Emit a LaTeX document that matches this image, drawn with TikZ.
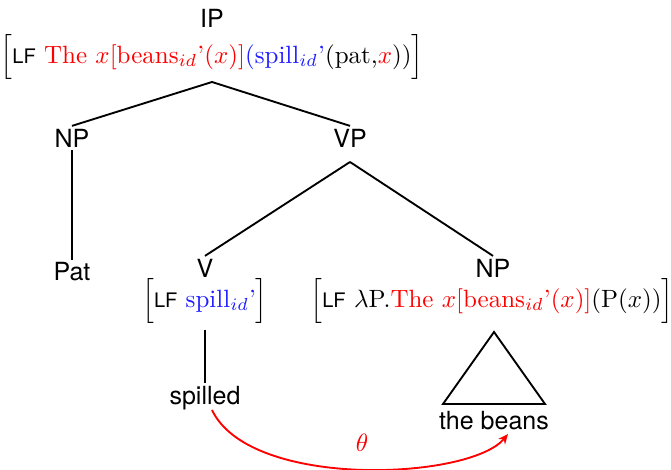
\documentclass[tikz,border=0pt]{standalone}
\usepackage{fontspec}
\setsansfont{TeX Gyre Heros}
\usetikzlibrary{arrows.meta}
\definecolor{lfred}{RGB}{255,0,0}
\definecolor{lfblue}{RGB}{30,30,255}
\newcommand{\lfr}[1]{\textcolor{lfred}{#1}}
\newcommand{\lfb}[1]{\textcolor{lfblue}{#1}}
\newcommand{\lfk}{{\sffamily\footnotesize LF}}
\begin{document}
\begin{tikzpicture}[x=0.4pt,y=-0.4pt,
  cat/.style={font=\sffamily, inner sep=1pt},
  lf/.style={inner sep=0pt},
  edge/.style={line width=0.75pt},
  mv/.style={lfred, line width=0.75pt, -{Stealth[length=4pt,width=3.5pt]}}]
\useasboundingbox (0,0) rectangle (671,470);
\node[cat] (ip) at (212,18) {IP};
\node[lf] (iplf) at (212,57) {$\Bigl[$\lfk\ \lfr{The $x$[beans$_{id}$'($x$)]}\lfb{(spill$_{id}$'}(pat,\lfr{$x$}))$\Bigr]$};
\node[cat] (np1) at (72,138) {NP};
\node[cat] (vp) at (350,138) {VP};
\node[cat] (pat) at (72,272) {Pat};
\node[cat] (v) at (205,268) {V};
\node[lf] (vlf) at (205,301) {$\Bigl[$\lfk\ \lfb{spill$_{id}$'}$\Bigr]$};
\node[lf] (nplf) at (492,301) {$\Bigl[$\lfk\ $\lambda$P.\lfr{The $x$[beans$_{id}$'($x$)]}(P($x$))$\Bigr]$};
\node[cat] (np2) at (493,268) {NP};
\node[cat] (spilled) at (205,398) {spilled};
\node[cat] (beans) at (494,421) {the beans};
\coordinate (ipb) at (212,82);
\coordinate (vpb) at (350,162);
\coordinate (vlfb) at (205,330);
\coordinate (tri) at (494,332);
\coordinate (tl) at (443,404);
\coordinate (tr) at (545,404);
\draw[edge] (ipb) -- (np1.north);
\draw[edge] (ipb) -- (vp.north);
\draw[edge] (np1.south) -- (pat.north);
\draw[edge] (vpb) -- (v.north);
\draw[edge] (vpb) -- (np2.north);
\draw[edge] (vlfb) -- (spilled.north);
\draw[edge] (tri) -- (tl) -- (tr) -- cycle;
\draw[mv] (212,410) .. controls (250,490) and (470,480) .. (508,434);
\node[text=lfred] (theta) at (362,443) {$\theta$};
\end{tikzpicture}
\end{document}
